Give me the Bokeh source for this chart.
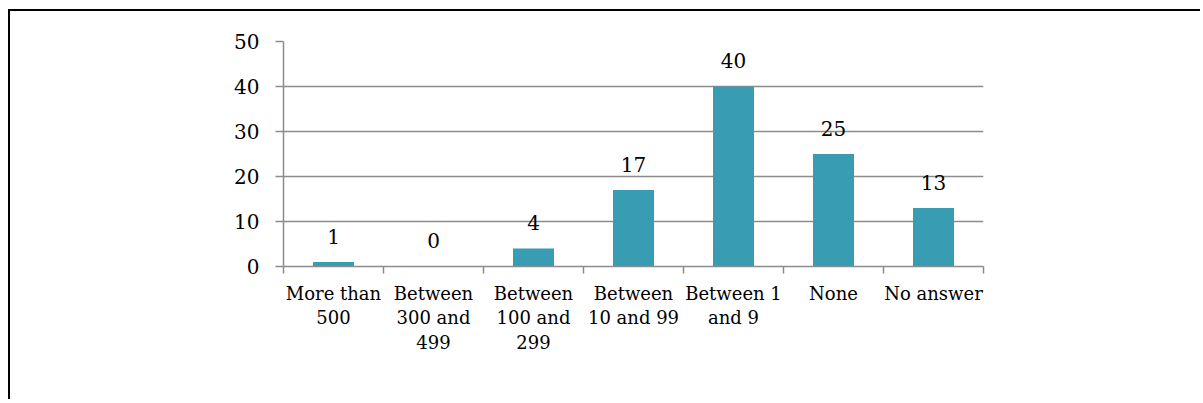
from bokeh.plotting import figure
from bokeh.models import Range1d, FixedTicker
from bokeh.core.properties import value
from bokeh.embed import file_html
from bokeh.resources import INLINE

# ---- data ----
categories = ["More than\n500", "Between\n300 and\n499", "Between\n100 and\n299",
              "Between\n10 and 99", "Between 1\nand 9", "None", "No answer"]
counts = [1, 0, 4, 17, 40, 25, 13]
y_ticks = [0, 10, 20, 30, 40, 50]

FONT = "DejaVu Serif"
BAR = "#389db2"
GRID = "#8c8c8c"

n = len(categories)
xpos = [i + 0.5 for i in range(n)]
bounds = [float(i) for i in range(n + 1)]

p = figure(width=1192, height=390, output_backend="svg", toolbar_location=None,
           x_range=Range1d(0, n), y_range=Range1d(0, 50),
           min_border_left=273, min_border_right=219, min_border_top=30, min_border_bottom=135)
p.styles = {"border-left": "2px solid black", "border-top": "2px solid black",
            "margin-left": "8px", "margin-top": "9px"}
p.outline_line_color = None
p.background_fill_color = "white"
p.border_fill_color = "white"

p.vbar(x=xpos, top=counts, width=0.41, bottom=0, fill_color=BAR, line_color=None)

labels = [str(v) for v in counts]
p.text(x=xpos, y=counts, text=labels, text_align="center", text_baseline="alphabetic",
       y_offset=-26, text_font=value(FONT), text_font_size="20px", text_color="black")

# x axis: labels at centres, tick marks at category boundaries
xa = p.xaxis[0]
xa.ticker = FixedTicker(ticks=xpos, minor_ticks=bounds)
xa.major_label_overrides = {x: c for x, c in zip(xpos, categories)}
xa.major_tick_out = 0
xa.major_tick_in = 0
xa.minor_tick_out = 7
xa.minor_tick_in = 0
xa.minor_tick_line_color = GRID
xa.axis_line_color = GRID
xa.axis_line_width = 1.5
xa.minor_tick_line_width = 1.5
xa.major_label_text_font = FONT
xa.major_label_text_font_size = "18px"
xa.major_label_text_color = "black"
xa.major_label_text_line_height = 1.19
xa.major_label_text_align = "center"
xa.major_label_standoff = 9

ya = p.yaxis[0]
ya.ticker = FixedTicker(ticks=y_ticks)
ya.major_tick_out = 8
ya.major_tick_in = 0
ya.minor_tick_line_color = None
ya.major_tick_line_color = GRID
ya.major_tick_line_width = 1.5
ya.axis_line_color = GRID
ya.axis_line_width = 1.5
ya.major_label_text_font = FONT
ya.major_label_text_font_size = "20px"
ya.major_label_text_color = "black"
ya.major_label_standoff = 16

p.xgrid.grid_line_color = None
p.ygrid.ticker = FixedTicker(ticks=y_ticks)
p.ygrid.grid_line_color = GRID
p.ygrid.grid_line_width = 1.5

open("out.html", "w").write(file_html(p, INLINE))
